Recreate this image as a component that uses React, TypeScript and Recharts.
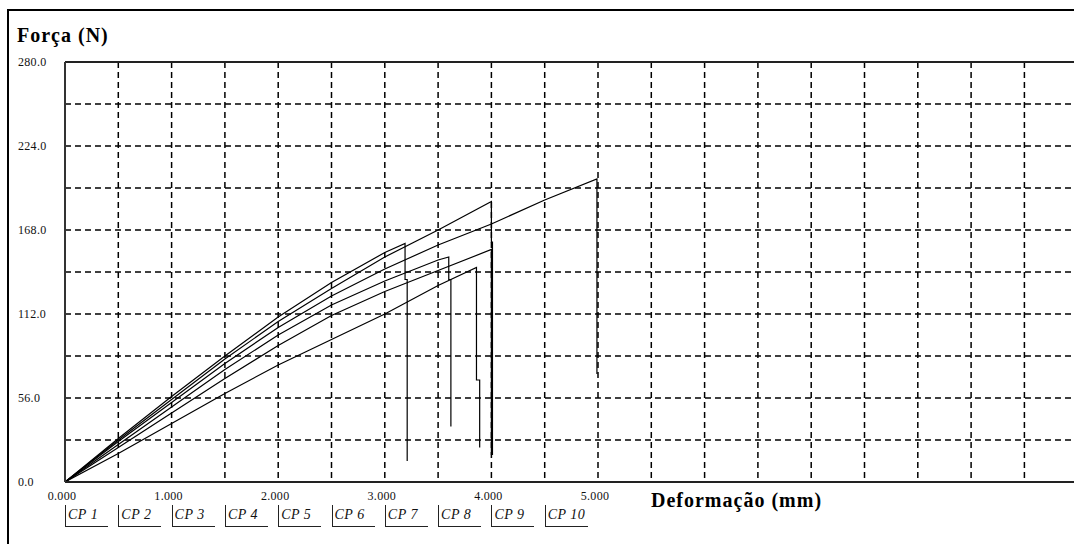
import { LineChart, Line, XAxis, YAxis, CartesianGrid, ReferenceLine } from "recharts";

const xTicks = [0, 0.5, 1, 1.5, 2, 2.5, 3, 3.5, 4, 4.5, 5, 5.5, 6, 6.5, 7, 7.5, 8, 8.5, 9, 9.5];
const xLabelled = [0, 1, 2, 3, 4, 5];
const yTicks = [0, 28, 56, 84, 112, 140, 168, 196, 224, 252, 280];
const yLabelled = [0, 56, 112, 168, 224, 280];

const legendLabels = ["CP 1", "CP 2", "CP 3", "CP 4", "CP 5", "CP 6", "CP 7", "CP 8", "CP 9", "CP 10"];

// deformação (mm) / força (N) per specimen
const cp1Def = [0, 0.5, 1, 1.5, 2, 2.5, 3, 3.19, 3.19, 3.21, 3.21];
const cp1Force = [0, 29, 57, 84, 110, 133, 153, 159, 135, 135, 14];

const cp2Def = [0, 0.5, 1, 1.5, 2, 2.5, 3, 3.5, 4, 4, 4.01, 4.01];
const cp2Force = [0, 28, 55, 82, 107, 129, 150, 168, 187, 160, 160, 18];

const cp3Def = [0, 0.5, 1, 1.5, 2, 2.5, 3, 3.5, 4, 4.5, 4.99, 4.99];
const cp3Force = [0, 27, 53, 79, 103, 124, 142, 158, 172, 188, 202, 72];

const cp4Def = [0, 0.5, 1, 1.5, 2, 2.5, 3, 3.5, 3.6, 3.6, 3.62, 3.62];
const cp4Force = [0, 25, 50, 75, 98, 118, 134, 148, 150, 135, 135, 37];

const cp5Def = [0, 0.5, 1, 1.5, 2, 2.5, 3, 3.5, 4, 4];
const cp5Force = [0, 23, 46, 69, 91, 111, 127, 141, 155, 18];

const cp6Def = [0, 0.5, 1, 1.5, 2, 2.5, 3, 3.5, 3.86, 3.86, 3.89, 3.89];
const cp6Force = [0, 19, 39, 59, 78, 95, 112, 131, 143, 68, 68, 23];

const toPoints = (def: number[], force: number[]) =>
  def.map((x, i) => ({ x, f: force[i] }));

const series = [
  { name: "CP 1", data: toPoints(cp1Def, cp1Force) },
  { name: "CP 2", data: toPoints(cp2Def, cp2Force) },
  { name: "CP 3", data: toPoints(cp3Def, cp3Force) },
  { name: "CP 4", data: toPoints(cp4Def, cp4Force) },
  { name: "CP 5", data: toPoints(cp5Def, cp5Force) },
  { name: "CP 6", data: toPoints(cp6Def, cp6Force) },
];

const serif = "'Liberation Serif', 'Times New Roman', serif";
const PLOT_LEFT = 65;
const STEP = 53.3;

const YTick = (props: any) => {
  const { y, payload } = props;
  if (!yLabelled.includes(payload.value)) return <g />;
  return (
    <text x={18} y={y} dy={4} textAnchor="start" fontSize={12} fontFamily={serif} fill="#111" letterSpacing={0.3}>
      {payload.value.toFixed(1)}
    </text>
  );
};

const XTick = (props: any) => {
  const { x, y, payload } = props;
  if (!xLabelled.includes(payload.value)) return <g />;
  return (
    <text x={x - 3} y={y} dy={10} textAnchor="middle" fontSize={12} fontFamily={serif} fill="#111" letterSpacing={0.3}>
      {payload.value.toFixed(3)}
    </text>
  );
};

const App = () => {
  return (
    <div style={{ position: "absolute", left: 0, top: 0, width: 1074, height: 544, overflow: "hidden", background: "#fff" }}>
      <div
        style={{
          position: "absolute",
          left: 7,
          top: 9,
          width: 1200,
          height: 700,
          borderLeft: "2px solid #000",
          borderTop: "2px solid #000",
        }}
      />
      <div style={{ position: "absolute", left: 0, top: 0 }}>
        <LineChart width={1140} height={544} margin={{ top: 62, right: 9, left: 8, bottom: 0 }}>
          <CartesianGrid stroke="#000" strokeWidth={1.5} strokeDasharray="6 4" horizontalValues={yTicks} verticalValues={xTicks} />
          <XAxis
            dataKey="x"
            type="number"
            domain={[0, 10]}
            ticks={xTicks}
            tick={<XTick />}
            tickLine={false}
            axisLine={{ stroke: "#222", strokeWidth: 2 }}
            height={62}
            interval={0}
            allowDataOverflow
          />
          <YAxis
            type="number"
            domain={[0, 280]}
            ticks={yTicks}
            tick={<YTick />}
            tickLine={false}
            axisLine={{ stroke: "#333", strokeWidth: 2 }}
            width={57}
            interval={0}
          />
          <ReferenceLine y={280} stroke="#222" strokeWidth={2} />
          {series.map((s) => (
            <Line
              key={s.name}
              data={s.data}
              dataKey="f"
              name={s.name}
              type="linear"
              stroke="#000"
              strokeWidth={1.2}
              dot={false}
              isAnimationActive={false}
            />
          ))}
        </LineChart>
      </div>
      <div style={{ position: "absolute", left: 17, top: 24, fontFamily: serif, fontWeight: "bold", fontSize: 20, letterSpacing: 1, whiteSpace: "nowrap" }}>
        Força (N)
      </div>
      <div style={{ position: "absolute", left: 651, top: 489, fontFamily: serif, fontWeight: "bold", fontSize: 20, letterSpacing: 1, whiteSpace: "nowrap" }}>
        Deformação (mm)
      </div>
      {legendLabels.map((label, i) => (
        <div
          key={label}
          style={{
            position: "absolute",
            left: PLOT_LEFT + i * STEP,
            top: 505,
            width: 40,
            height: 21,
            borderLeft: "1.5px solid #222",
            borderBottom: "1.5px solid #222",
            fontFamily: serif,
            fontStyle: "italic",
            fontSize: 14,
            letterSpacing: 0.5,
            lineHeight: "20px",
            paddingLeft: 2,
            whiteSpace: "nowrap",
            color: "#111",
          }}
        >
          {label}
        </div>
      ))}
    </div>
  );
};

export default App;
